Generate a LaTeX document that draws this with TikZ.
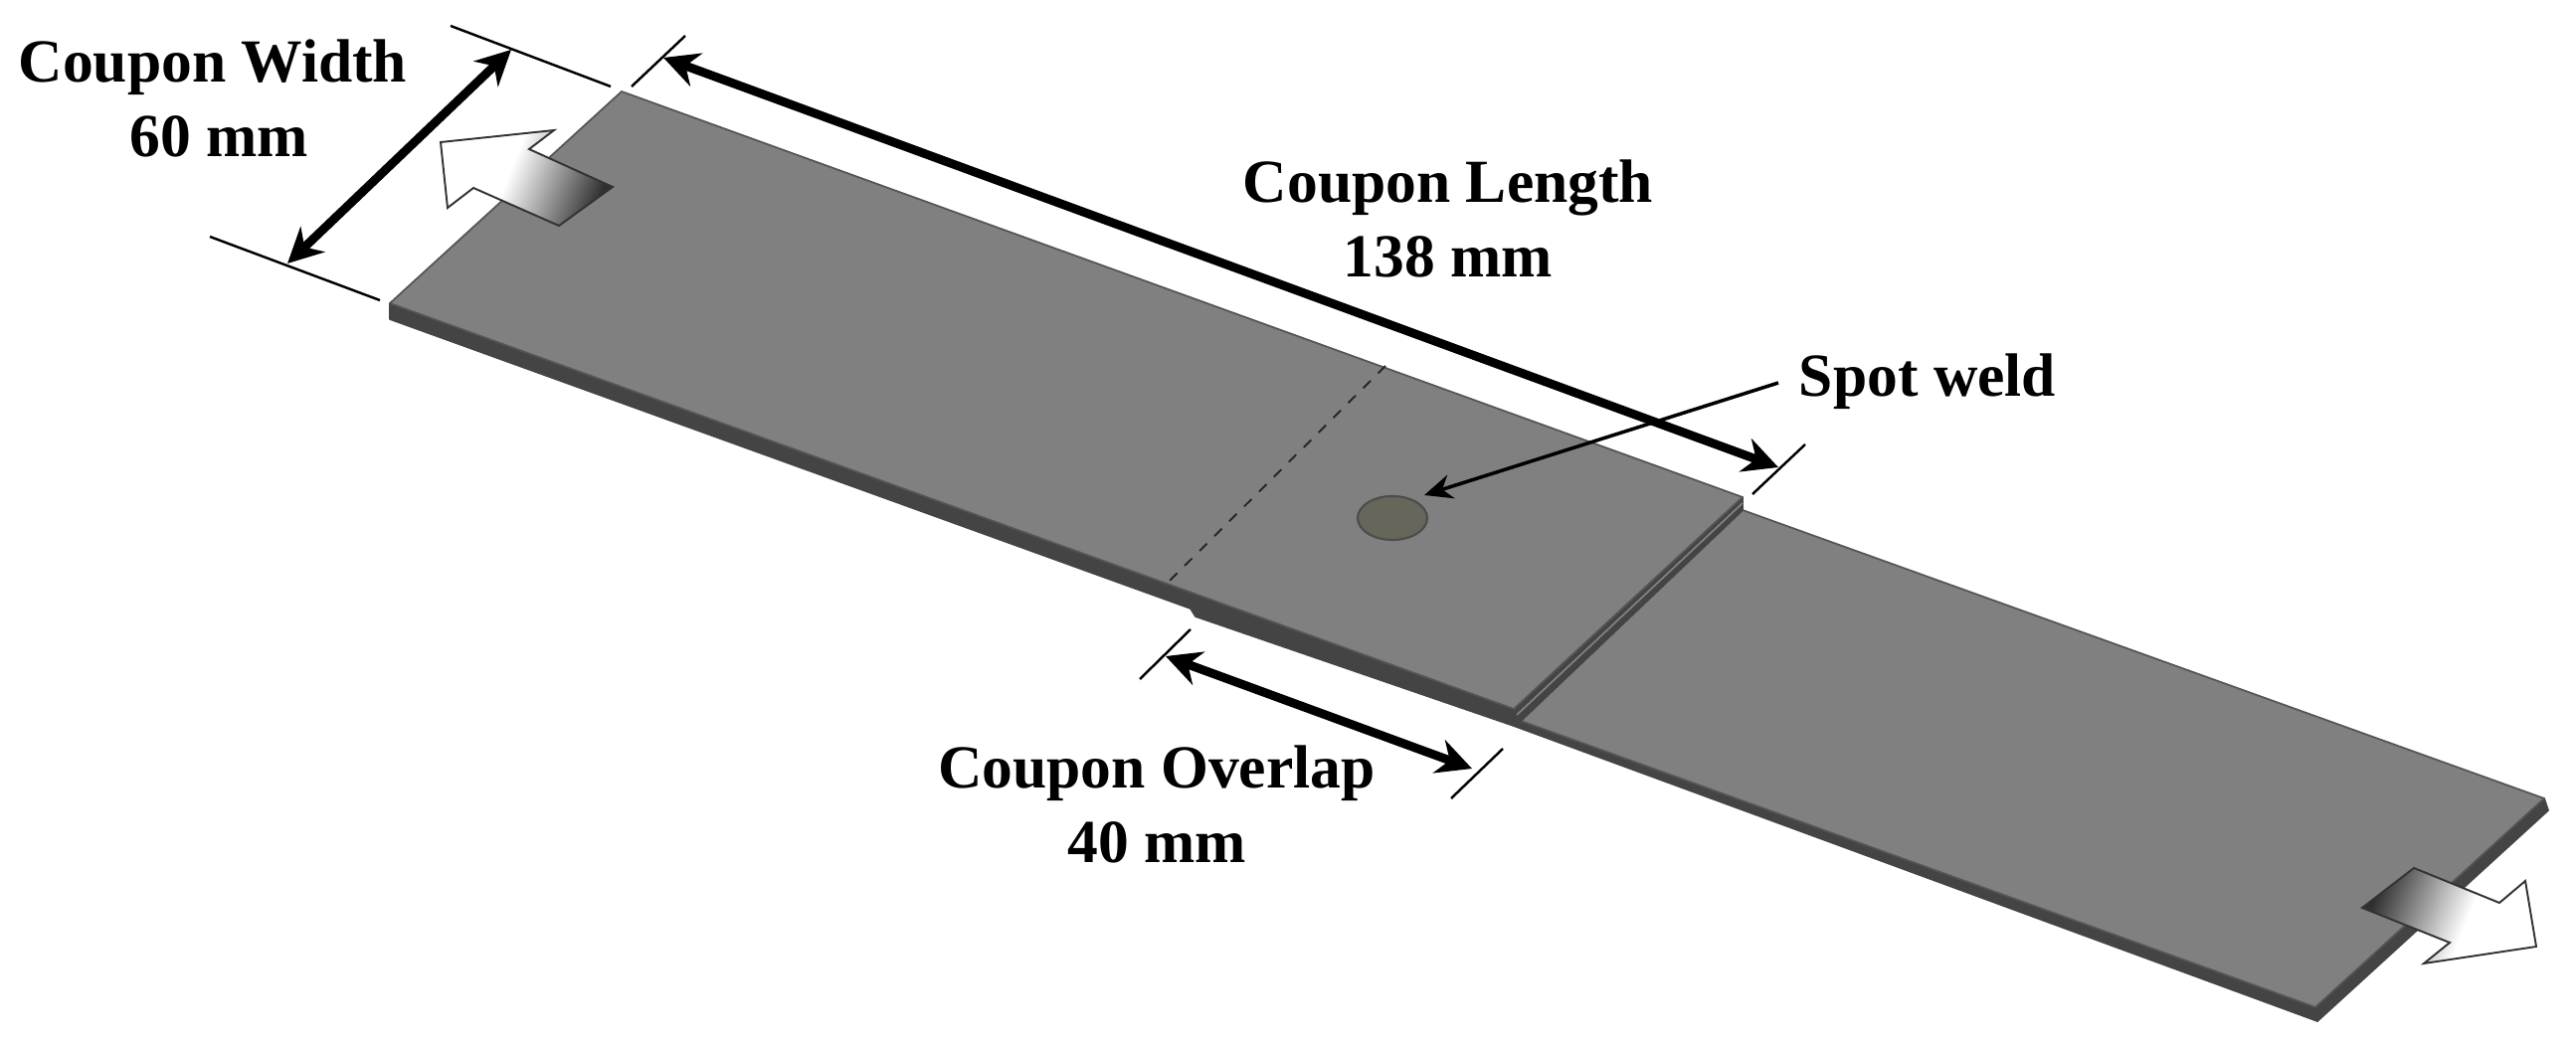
\documentclass[tikz,border=0pt]{standalone}
\usepackage{fontspec}
\setmainfont{Liberation Serif}
\usetikzlibrary{arrows.meta}
\definecolor{platefill}{HTML}{808080}
\definecolor{plateside}{HTML}{444444}
\definecolor{plateedge}{HTML}{555555}
\definecolor{pulldark}{HTML}{303030}
\definecolor{spotfill}{HTML}{66665A}
\pgfdeclarehorizontalshading{pullshade}{100bp}{color(0bp)=(white); color(44bp)=(white); color(75bp)=(pulldark); color(100bp)=(pulldark)}
\tikzset{
 plate/.style={fill=platefill,draw=plateedge,line width=0.5pt,line join=round},
 side/.style={fill=plateside,draw=plateside,line width=0.5pt,line join=round},
 pull/.style={shading=pullshade,draw=black!80,line width=0.55pt,line join=miter},
 dimline/.style={<->,>={Stealth[length=10pt,width=10pt]},line width=2.5pt},
 tickline/.style={line width=0.7pt},
 lbl/.style={font=\fontsize{17.5}{21.5}\selectfont\bfseries,align=center,inner sep=0pt}
}
\begin{document}
\begin{tikzpicture}[x=0.01cm,y=-0.01cm]
 \useasboundingbox (0,0) rectangle (2590,1052);
 \coordinate (widthtop) at (514,50);
 \coordinate (widthbot) at (289,265);
 \coordinate (lengthtop) at (667,58);
 \coordinate (lengthbot) at (1788,470);
 \coordinate (overlaptop) at (1172,660);
 \coordinate (overlapbot) at (1480,773);
 \coordinate (spotlead) at (1788,385);
 \coordinate (spottip) at (1432,498);
 \draw[side] (392,305)--(1173,587)--(1197,612)--(392,321)--cycle;
 \draw[side] (1173,587)--(1522,713)--(1522,730)--(1202,620)--(1197,612)--cycle;
 \draw[side] (1522,713)--(1529,725)--(2328,1013)--(2330,1027)--(1522,730)--cycle;
 \draw[side] (2558,803)--(2562,815)--(2330,1027)--(2328,1013)--cycle;
 \draw[plate] (1752,513)--(2558,803)--(2328,1013)--(1529,725)--cycle;
 \draw[side] (1752,500)--(1752,513)--(1529,725)--(1522,713)--cycle;
 \draw[platefill,line width=0.5pt] (1752,506)--(1525,719);
 \draw[plate] (625,92)--(1752,500)--(1522,713)--(1173,587)--(392,305)--cycle;
 \draw[black!85,dashed,line width=0.55pt] (1393,368)--(1173,587);
 \draw[fill=spotfill,draw=black!70,line width=0.6pt] (1400,521) ellipse (35 and 22);
 \shadedraw[pull,shading angle=-22] (616,188)--(532,150)--(557,131)--(443,143)--(450,209)--(476,189)--(562,227)--cycle;
 \shadedraw[pull,shading angle=158] (2427,873)--(2513,908)--(2539,886)--(2550,952)--(2437,969)--(2463,948)--(2375,913)--cycle;
 \foreach \a/\b/\c/\d in {453/26/614/87,211/238/382/302,635/87/689/36,1762/497/1815/447,1146/683/1197/633,1459/803/1511/753}
 \draw[tickline] (\a,\b)--(\c,\d);
 \draw[dimline] (widthtop)--(widthbot);
 \draw[dimline] (lengthtop)--(lengthbot);
 \draw[dimline] (overlaptop)--(overlapbot);
 \draw[->,>={Stealth[length=8pt,width=7pt]},line width=1pt] (spotlead)--(spottip);
 \node[lbl] (widthlbl) at (214,99) {Coupon Width\\\hspace*{0.12cm}60 mm};
 \node[lbl] (lengthlbl) at (1456,220) {Coupon Length\\138 mm};
 \node[lbl] (overlaplbl) at (1163,809) {Coupon Overlap\\40 mm};
 \node[lbl] (spotlbl) at (1938,384) {Spot weld};
\end{tikzpicture}
\end{document}
